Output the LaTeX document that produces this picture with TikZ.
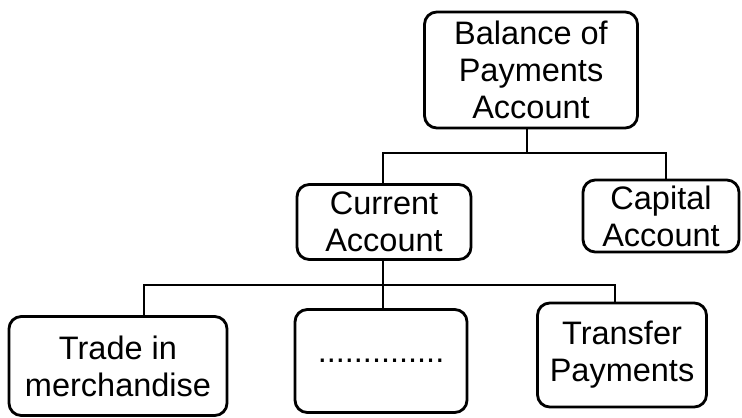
\documentclass[tikz,border=0pt]{standalone}
\usepackage{fontspec}
\setmainfont{Liberation Sans}
\usetikzlibrary{calc}

\tikzset{
	acctbox/.style={draw,line width=1.6pt,rounded corners=7pt,align=center,
		font=\fontsize{18.5}{21}\selectfont,inner sep=0pt},
	link/.style={line width=1.6pt}
}

\begin{document}
\begin{tikzpicture}[x=0.02cm,y=-0.02cm]
	\useasboundingbox (0,0) rectangle (742,418);

	%boxes
	\node[acctbox,minimum width=213*0.02cm,minimum height=116*0.02cm] (bop) at (531,70)
		{Balance of\\Payments\\Account};
	\node[acctbox,minimum width=174*0.02cm,minimum height=75*0.02cm] (cur) at (384,222)
		{Current\\Account};
	\node[acctbox,minimum width=156*0.02cm,minimum height=72*0.02cm] (cap) at (661,216)
		{Capital\\Account};
	\node[acctbox,minimum width=218*0.02cm,minimum height=99*0.02cm] (trade) at (118,366)
		{Trade in\\merchandise};
	\node[acctbox,minimum width=172*0.02cm,minimum height=103*0.02cm] (other) at (381,361)
		{..............};
	\node[acctbox,minimum width=169*0.02cm,minimum height=104*0.02cm] (transfer) at (622,355)
		{Transfer\\Payments};

	%joints
	\coordinate (top) at (527,153);
	\coordinate (mid) at (383,285);

	%top branch
	\draw[link] (bop.south -| top) -- (top);
	\draw[link] (cur.north -| 383,0) |- (top) -| (666,0 |- cap.north);

	%bottom branch
	\draw[link] (cur.south -| mid) -- (mid);
	\draw[link] (trade.north -| 144,0) |- (mid) -| (615,0 |- transfer.north);
	\draw[link] (mid) -- (other.north -| mid);
\end{tikzpicture}
\end{document}
